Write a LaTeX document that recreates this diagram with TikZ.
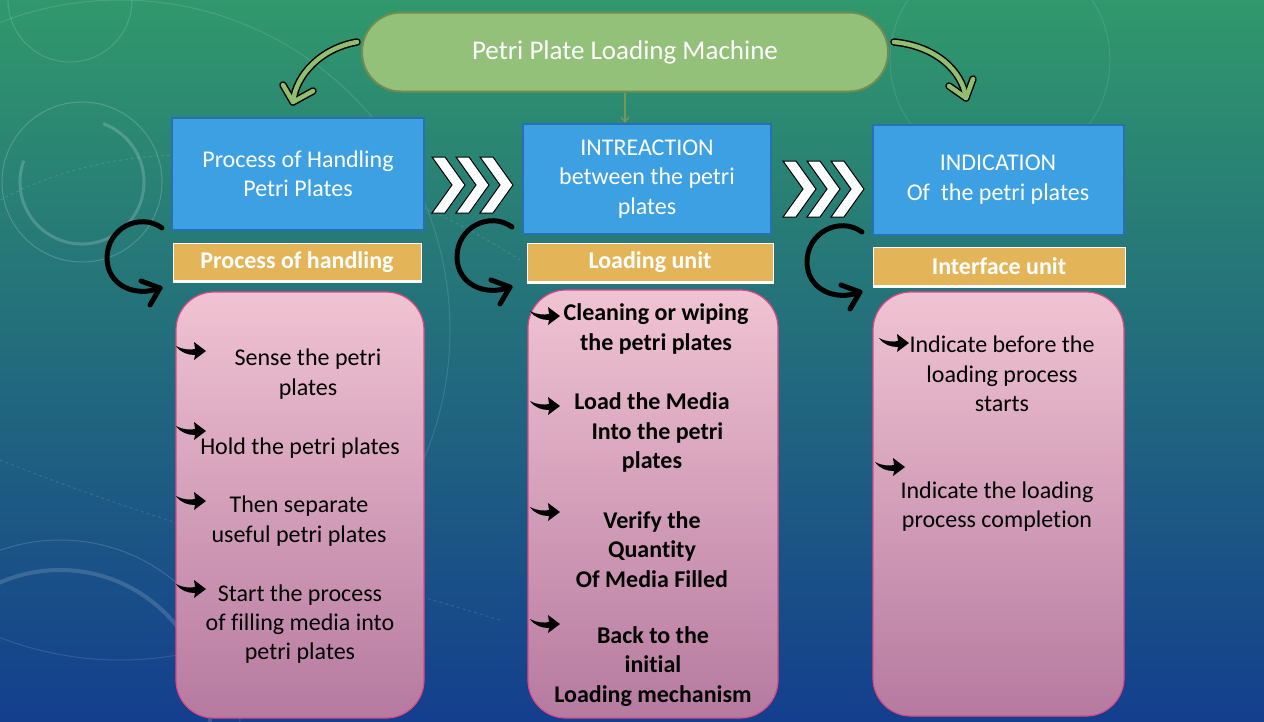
\documentclass[tikz,border=0pt]{standalone}
\usepackage{fontspec}
\setmainfont{Carlito}[Ligatures=NoCommon]
\usetikzlibrary{arrows.meta}
\definecolor{bgtop}{RGB}{48,152,108}
\definecolor{bgmid}{RGB}{34,112,122}
\definecolor{bgbot}{RGB}{20,62,142}
\definecolor{bluefill}{RGB}{60,160,226}
\definecolor{blueline}{RGB}{40,112,182}
\definecolor{orangefill}{RGB}{228,180,88}
\definecolor{pinktop}{RGB}{240,195,210}
\definecolor{pinkbot}{RGB}{182,122,160}
\definecolor{pinkline}{RGB}{222,72,132}
\definecolor{titlefill}{RGB}{147,193,122}
\definecolor{titleline}{RGB}{112,140,82}
\definecolor{garrow}{RGB}{146,190,112}
\definecolor{olive}{RGB}{120,150,90}
\begin{document}
\begin{tikzpicture}[x=1pt,y=-1pt,
  txt/.style={font=\fontsize{24}{29.3}\selectfont, align=center, inner sep=0pt},
  btxt/.style={txt, font=\fontsize{24}{29.3}\selectfont\bfseries},
  bluebox/.style={draw=blueline, line width=2pt, fill=bluefill, text=white, txt, minimum width=250, minimum height=110},
  barbox/.style={fill=orangefill, draw=white, line width=1pt, text=white, font=\fontsize{24}{28}\selectfont\bfseries, minimum height=38, inner sep=0pt},
  pinkbox/.style={rounded corners=38pt, draw=pinkline, line width=1.2pt, top color=pinktop, bottom color=pinkbot, minimum width=248, minimum height=426},
  chev/.pic={\filldraw[fill=white, draw=black, line width=1pt] (0,0) -- (13,0) -- (33,28) -- (13,56) -- (0,56) -- (20,28) -- cycle;},
  bul/.pic={\fill[black] (0,-3) .. controls (8,1) and (14,1) .. (19,0) -- (18,-7) -- (30,2) -- (18,11) -- (19,6) .. controls (12,6) and (5,4) .. (0,-3) -- cycle;},
  circarrow/.style={line width=5pt, line cap=round, line join=round, draw=black},
  garrowout/.style={line width=7.5pt, line cap=round, line join=round, draw=black},
  garrowin/.style={line width=4.5pt, line cap=round, line join=round, draw=garrow}
]
\useasboundingbox (0,0) rectangle (1264,721);
% background
\shade[top color=bgtop, middle color=bgmid, bottom color=bgbot] (0,0) rectangle (1264,721);
\begin{scope}
\clip (0,0) rectangle (1264,721);
\draw[white, opacity=0.18, line width=1pt] (82,182) circle[radius=80];
\draw[white, opacity=0.18, line width=3pt] (82,182) ++(200:62) arc[start angle=200, end angle=-70, radius=62];
\draw[white, opacity=0.15, line width=1pt] (70,0) circle[radius=62];
\draw[white, opacity=0.12, line width=1pt] (120,330) circle[radius=330];
\draw[white, opacity=0.15, line width=1pt] (60,720) circle[radius=180];
\draw[white, opacity=0.15, line width=4pt] (60,720) circle[radius=150];
\draw[white, opacity=0.10, line width=1pt] (1000,60) circle[radius=110];
\draw[white, opacity=0.12, line width=1pt, dashed] (0,200) .. controls (150,120) and (350,150) .. (520,260);
\draw[white, opacity=0.12, line width=1pt, dashed] (0,460) .. controls (150,520) and (300,560) .. (500,620);
\end{scope}

% title
\node[draw=titleline, line width=2pt, fill=titlefill, rounded corners=39pt, minimum width=526, minimum height=79, text=white, inner sep=0pt, font=\fontsize{27}{32}\selectfont] (title) at (625,52) {Petri Plate Loading Machine};

% blue boxes
\node[bluebox, minimum width=252, minimum height=112] (b1) at (298,174) {Process of Handling\\Petri Plates};
\node[bluebox, minimum width=248] (b2) at (647,179) {INTREACTION\\between the petri\\plates};
\node[bluebox, minimum width=251] (b3) at (998,179.5) {INDICATION\\Of\ \ the petri plates};

% bars
\node[barbox, minimum width=248] (r1) at (297,262) {Process of handling};
\node[barbox, minimum width=246] (r2) at (650,262.5) {Loading unit};
\node[barbox, minimum width=252] (r3) at (999,266.5) {Interface unit};
\draw[white, line width=3pt] (r1.south west) -- (r1.south east);
\draw[white, line width=3pt] (r2.south west) -- (r2.south east);
\draw[white, line width=3pt] (r3.south west) -- (r3.south east);

% pink boxes
\node[pinkbox] (p1) at (300,505) {};
\node[pinkbox, minimum width=250, minimum height=428] (p2) at (653,504) {};
\node[pinkbox, minimum width=251, minimum height=424] (p3) at (998.5,504) {};

% pink texts
\node[txt] (t11) at (308,374) {Sense the petri\\plates};
\node[txt] (t12) at (300,448) {Hold the petri plates};
\node[txt] (t13) at (299,521) {Then separate\\useful petri plates};
\node[txt] (t14) at (300,624) {Start the process\\of filling media into\\petri plates};
\node[btxt] (t21) at (656,329) {Cleaning or wiping\\the petri plates};
\node[btxt] (t22) at (652,432.5) {Load the Media\\\ \ Into the petri\\plates};
\node[btxt] (t23) at (652,549.5) {Verify the\\Quantity\\Of Media Filled};
\node[btxt] (t24) at (653,666.5) {Back to the\\initial\\Loading mechanism};
\node[txt] (t31) at (1002,374) {Indicate before the\\loading process\\starts};
\node[txt] (t32) at (997,506.5) {Indicate the loading\\process completion};

% bullets
\pic at (176,349) {bul};
\pic at (176,429) {bul};
\pic at (176,499) {bul};
\pic at (176,587) {bul};
\pic at (530,314) {bul};
\pic at (530,404) {bul};
\pic at (530,510) {bul};
\pic at (530,622) {bul};
\pic at (879,341) {bul};
\pic at (875,465) {bul};

% chevrons
\pic at (432,157) {chev};
\pic at (456,157) {chev};
\pic at (480,157) {chev};
\pic at (783,161) {chev};
\pic at (807,161) {chev};
\pic at (831,161) {chev};

% center arrow
\draw[draw=olive, line width=1.2pt, -{Straight Barb[length=5pt,width=8pt]}] (title.south) -- (title.south |- b2.north);

% green curved arrows
\coordinate (ls) at ([xshift=-4pt,yshift=10pt]title.west);
\coordinate (le) at ([xshift=-5pt,yshift=15pt]b1.north);
\coordinate (rs) at ([xshift=5pt,yshift=10pt]title.east);
\coordinate (re) at (966,98);
\foreach \s in {garrowout,garrowin}{
  \draw[\s] (ls) .. controls (322,48) and (296,74) .. (le);
  \draw[\s] ([xshift=-10pt,yshift=17pt]le) -- (le) -- ([xshift=20pt,yshift=11pt]le);
  \draw[\s] (rs) .. controls (935,46) and (962,70) .. (re);
  \draw[\s] (949,86) -- (re) -- (973,79);
}

% circular arrows
\foreach \dx/\dy in {0/0,350/-1,700/4}{
  \begin{scope}[shift={(\dx,\dy)}]
  \draw[circarrow] (162,228) .. controls (140,212) and (107,228) .. (107,258) .. controls (107,285) and (135,298) .. (160,288);
  \draw[circarrow] (141,281) -- (160,288) -- (150,305);
  \end{scope}
}
\end{tikzpicture}
\end{document}
